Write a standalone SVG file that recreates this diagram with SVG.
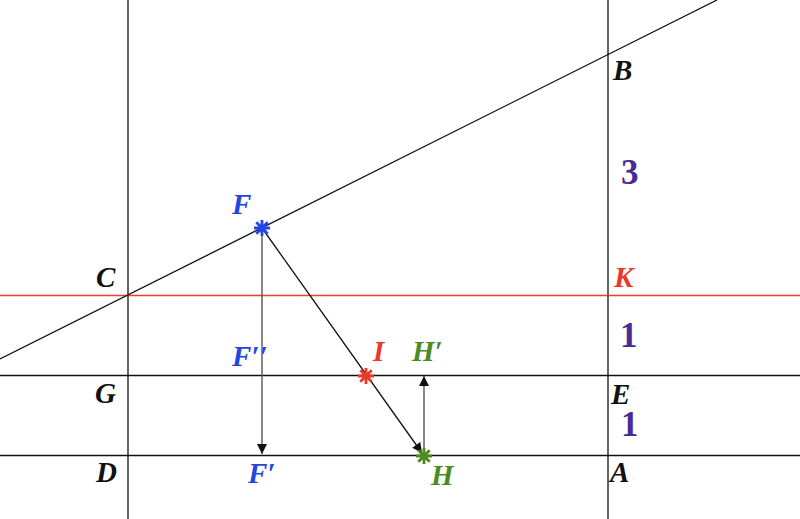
<svg xmlns="http://www.w3.org/2000/svg" width="800" height="519" viewBox="0 0 800 519">
<style>
.ln{stroke:#111;stroke-width:1.3;fill:none}
.ar{stroke:#555;stroke-width:1.4;fill:none}
.lb{font-family:"Liberation Serif",serif;font-style:italic;font-weight:bold;font-size:29px}
.num{font-family:"Liberation Serif",serif;font-weight:bold;font-size:35px;fill:#4a2a94}
</style>
<defs>
<marker id="ah" viewBox="0 0 10 10" refX="10" refY="5" markerWidth="10" markerHeight="10" markerUnits="userSpaceOnUse" orient="auto"><path d="M0,0 L10,5 L0,10 z" fill="#111"/></marker>
<path id="star" d="M-8,0 H8 M0,-8 V8 M-5.7,-5.7 L5.7,5.7 M-5.7,5.7 L5.7,-5.7" stroke-width="2.8" fill="none"/>
</defs>
<rect width="800" height="519" fill="#fff"/>
<g id="connectors">
<line class="ln" x1="128" y1="0" x2="128" y2="519"/>
<line class="ln" x1="608" y1="0" x2="608" y2="519"/>
<line x1="0" y1="295.5" x2="800" y2="295.5" stroke="#e8402c" stroke-width="1.4"/>
<line class="ln" x1="0" y1="375.5" x2="800" y2="375.5"/>
<line class="ln" x1="0" y1="455.5" x2="800" y2="455.5"/>
<line class="ln" x1="0" y1="359" x2="717" y2="0"/>
<line class="ln" x1="262" y1="228" x2="422" y2="453" marker-end="url(#ah)"/>
<line class="ar" x1="262" y1="228" x2="262" y2="454" marker-end="url(#ah)"/>
<line class="ar" x1="424" y1="455" x2="424" y2="376" marker-end="url(#ah)"/>
</g>
<g id="F"><use href="#star" x="262" y="228" stroke="#2346e0"/><text class="lb" x="232" y="214" fill="#2346e0">F</text></g>
<g id="I"><use href="#star" x="366" y="376" stroke="#e83a2a"/><text class="lb" x="373" y="361" fill="#e83a2a">I</text></g>
<g id="H"><use href="#star" x="424" y="456" stroke="#4d8a1f"/><text class="lb" x="431" y="485" fill="#4d8a1f">H</text></g>
<g id="Hp"><text class="lb" x="412" y="361" fill="#4d8a1f">H′</text></g>
<g id="Fpp"><text class="lb" x="232" y="366" fill="#2346e0">F′′</text></g>
<g id="Fp"><text class="lb" x="248" y="483" fill="#2346e0">F′</text></g>
<g id="C"><text class="lb" x="96" y="287" fill="#111">C</text></g>
<g id="G"><text class="lb" x="95" y="403" fill="#111">G</text></g>
<g id="D"><text class="lb" x="96" y="482" fill="#111">D</text></g>
<g id="B"><text class="lb" x="613" y="80" fill="#111">B</text></g>
<g id="K"><text class="lb" x="614" y="287" fill="#e83a2a">K</text></g>
<g id="E"><text class="lb" x="611" y="404" fill="#111">E</text></g>
<g id="A"><text class="lb" x="610" y="482" fill="#111">A</text></g>
<g id="n3"><text class="num" x="621" y="184">3</text></g>
<g id="n1a"><text class="num" x="620" y="347">1</text></g>
<g id="n1b"><text class="num" x="621" y="436">1</text></g>
</svg>
